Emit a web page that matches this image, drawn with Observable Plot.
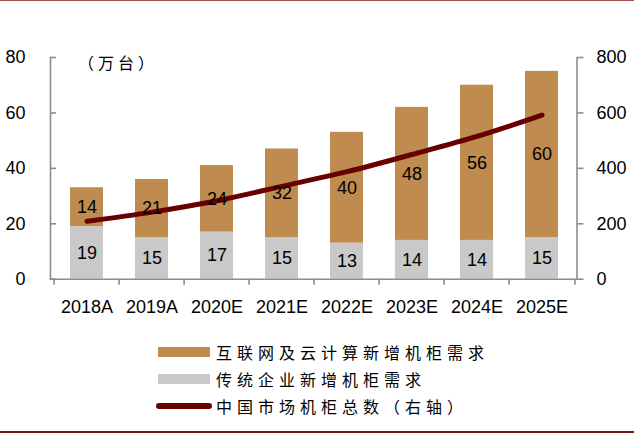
<!DOCTYPE html>
<html>
<head>
<meta charset="utf-8">
<script src="https://cdn.jsdelivr.net/npm/d3@7"></script>
<script src="https://cdn.jsdelivr.net/npm/@observablehq/plot@0.6"></script>
<style>
  html, body { margin: 0; padding: 0; background: #fff; }
  #wrap { position: relative; width: 634px; height: 435px; overflow: hidden; }
  #topline { position: absolute; left: 0; top: 0; width: 634px; height: 1px; background: #a05252; }
  #botline { position: absolute; left: 0; top: 431px; width: 634px; height: 2px; background: #7a1515; }
  #chart { position: absolute; left: 0; top: 0; }
  .cjk { font-family: "Noto Sans CJK SC", sans-serif; font-size: 16px; color: #000; letter-spacing: 5px; white-space: nowrap; }
  #unit { position: absolute; left: 78px; top: 51px; line-height: 22px; letter-spacing: 4px; }
  .lg { position: absolute; left: 216px; line-height: 20px; }
  .sw { position: absolute; }
</style>
</head>
<body>
<div id="wrap">
  <div id="topline"></div>
  <div id="chart"></div>
  <div id="unit" class="cjk">（万台）</div>
  <div id="legend"></div>
  <div id="botline"></div>
</div>
<script>
const years = ["2018A", "2019A", "2020E", "2021E", "2022E", "2023E", "2024E", "2025E"];
const traditional = [19, 15, 17, 15, 13, 14, 14, 15];
const cloud = [14, 21, 24, 32, 40, 48, 56, 60];
const total = [209, 242, 283, 335, 388, 450, 515, 592];
const leftTicks = [0, 20, 40, 60, 80];
const rightTicks = [0, 200, 400, 600, 800];
const seriesNames = ["传统企业新增机柜需求", "互联网及云计算新增机柜需求"];
const lineName = "中国市场机柜总数（右轴）";

const brown = "#bf8b4e", gray = "#c9c9c9", lineColor = "#680000", axisColor = "#8c8c8c";
const rightScale = 10;

const long = years.flatMap((y, i) => [
  {year: y, series: seriesNames[0], value: traditional[i]},
  {year: y, series: seriesNames[1], value: cloud[i]}
]);
const lineData = years.map((y, i) => ({year: y, total: total[i]}));

const W = 634, H = 330, mL = 50, mR = 57.5, mT = 57, mB = 51.3;
const halfStep = (W - mL - mR) / years.length / 2;

const chart = Plot.plot({
  width: W, height: H,
  marginLeft: mL, marginRight: mR, marginTop: mT, marginBottom: mB,
  style: {fontFamily: "Liberation Sans, Arial, sans-serif", fontSize: "18px", color: "#000", background: "transparent"},
  x: {domain: years, paddingInner: 0.5, paddingOuter: 0.25, axis: null},
  y: {domain: [0, 80], axis: null},
  color: {domain: seriesNames, range: [gray, brown]},
  marks: [
    Plot.barY(long, {x: "year", y: "value", z: "series", fill: "series"}),
    Plot.line(lineData, {x: "year", y: d => d.total / rightScale, curve: "catmull-rom", stroke: lineColor, strokeWidth: 5, strokeLinecap: "round"}),
    Plot.text(long, Plot.stackY({x: "year", y: "value", z: "series", text: "value", fill: "#000", fontSize: 18})),
    Plot.frame({anchor: "left", stroke: axisColor, strokeWidth: 1.6}),
    Plot.frame({anchor: "right", stroke: axisColor, strokeWidth: 1.6}),
    Plot.frame({anchor: "bottom", stroke: axisColor, strokeWidth: 1.6}),
    Plot.axisY(leftTicks, {anchor: "left", label: null, tickSize: -6, tickFormat: () => "", stroke: axisColor, strokeWidth: 1.6}),
    Plot.axisY(leftTicks, {anchor: "left", label: null, tickSize: 0, tickPadding: 25, fill: "#000"}),
    Plot.axisY(rightTicks.map(v => v / rightScale), {anchor: "right", label: null, tickSize: 6, tickPadding: 13.5, tickFormat: d => String(d * rightScale), stroke: axisColor, strokeWidth: 1.6, fill: "#000"}),
    Plot.axisX(years, {anchor: "bottom", label: null, tickSize: 6, tickFormat: () => "", dx: -halfStep, stroke: axisColor, strokeWidth: 1.6}),
    Plot.axisX([years[years.length - 1]], {anchor: "bottom", label: null, tickSize: 6, tickFormat: () => "", dx: halfStep, stroke: axisColor, strokeWidth: 1.6}),
    Plot.axisX(years, {anchor: "bottom", label: null, tickSize: 0, tickPadding: 21, fill: "#000"})
  ]
});
document.getElementById("chart").appendChild(chart);

// legend (HTML, below the plot)
const legend = document.getElementById("legend");
const rows = [
  {label: seriesNames[1], type: "rect", color: brown, cy: 352},
  {label: seriesNames[0], type: "rect", color: gray, cy: 379},
  {label: lineName, type: "line", color: lineColor, cy: 406}
];
rows.forEach(r => {
  const sw = document.createElement("div");
  sw.className = "sw";
  if (r.type === "rect") {
    Object.assign(sw.style, {left: "158px", top: (r.cy - 5) + "px", width: "52px", height: "10px", background: r.color});
  } else {
    Object.assign(sw.style, {left: "156px", top: (r.cy - 3) + "px", width: "56px", height: "6px", background: r.color, borderRadius: "3px"});
  }
  legend.appendChild(sw);
  const t = document.createElement("div");
  t.className = "cjk lg";
  t.style.top = (r.cy - 10) + "px";
  t.textContent = r.label;
  legend.appendChild(t);
});
</script>
</body>
</html>
